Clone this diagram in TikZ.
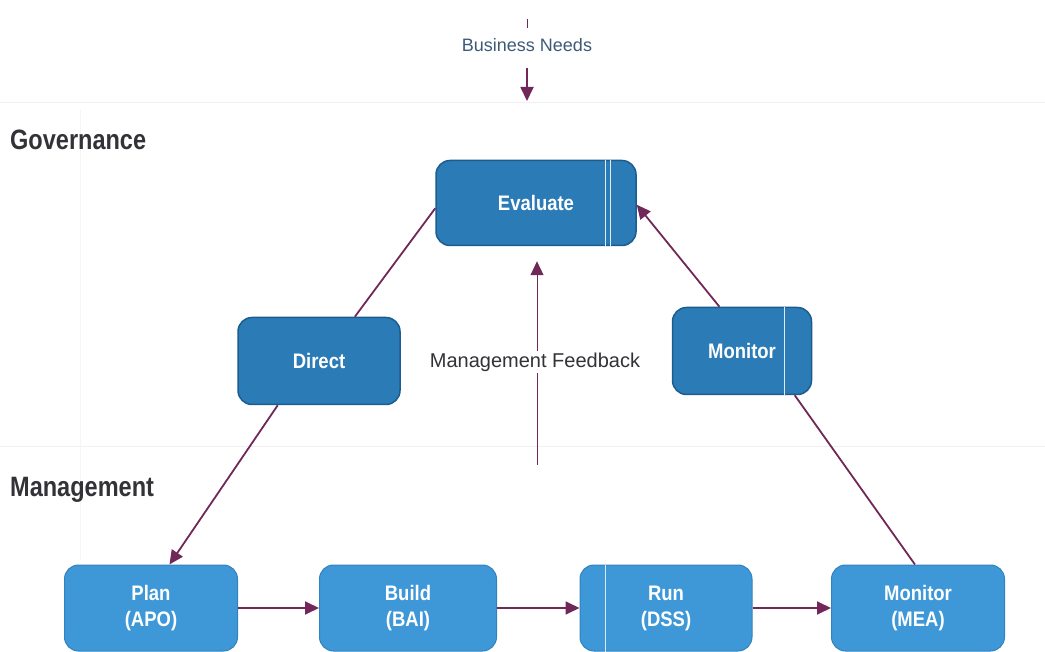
\documentclass[tikz,border=0pt]{standalone}
\usepackage{fontspec}
\setmainfont{Liberation Sans}
\newfontfamily\condfont[FakeStretch=0.84]{Liberation Sans}
\newfontfamily\boxfont[FakeStretch=0.88]{Liberation Sans}
\usetikzlibrary{arrows.meta}
\definecolor{govfill}{RGB}{43,123,183}
\definecolor{govdraw}{RGB}{28,92,142}
\definecolor{mgmtfill}{RGB}{62,152,216}
\definecolor{mgmtdraw}{RGB}{50,130,190}
\definecolor{linkcol}{RGB}{112,40,88}
\definecolor{labelcol}{RGB}{50,50,55}
\definecolor{needcol}{RGB}{60,90,120}
\begin{document}
\begin{tikzpicture}[x=1pt,y=-1pt,
  govbox/.style={draw=govdraw,line width=1.5pt,fill=govfill,rounded corners=14pt,
    text=white,font=\boxfont\bfseries\fontsize{21}{25}\selectfont,align=center},
  mgmtbox/.style={draw=mgmtdraw,line width=1pt,fill=mgmtfill,rounded corners=14pt,
    text=white,font=\boxfont\bfseries\fontsize{21}{26}\selectfont,align=center,
    minimum width=173pt,minimum height=86pt},
  layer/.style={font=\condfont\bfseries\fontsize{28}{32}\selectfont,text=labelcol,anchor=west,inner sep=0pt},
  link/.style={draw=linkcol,line width=1.8pt},
  linkarrow/.style={link,-{Triangle[length=14pt,width=13pt]}},
  band/.style={draw=gray!12,line width=1pt},
  scanline/.style={draw=white!85!govfill,line width=1pt}
]
\useasboundingbox (0,0) rectangle (1045,652);
% faint separators
\coordinate (bandAl) at (0,103); \coordinate (bandAr) at (1045,103);
\coordinate (bandBl) at (0,447); \coordinate (bandBr) at (1045,447);
\coordinate (bandVt) at (80,110); \coordinate (bandVb) at (80,560);
\draw[band] (bandAl) -- (bandAr);
\draw[band] (bandBl) -- (bandBr);
\draw[band,draw=gray!8] (bandVt) -- (bandVb);

% layer labels
\node[layer] (gov) at (10,140) {Governance};
\node[layer] (mgmt) at (10,490) {Management};

% business needs
\node[font=\fontsize{18}{20}\selectfont,text=needcol,inner sep=1pt] (needs) at (527,45) {Business Needs};
\coordinate (needstop) at (527,19);
\coordinate (needstopend) at (527,28);
\coordinate (needsstart) at (527,68);
\coordinate (needsend) at (527,101);
\draw[link,line width=1pt] (needstop) -- (needstopend);
\draw[linkarrow] (needsstart) -- (needsend);

% governance boxes
\node[govbox,minimum width=200pt,minimum height=85pt] (eval) at (536,203) {Evaluate};
\node[govbox,minimum width=162pt,minimum height=87pt] (direct) at (319,361) {Direct};
\node[govbox,minimum width=139pt,minimum height=87pt] (monitor) at (742,351) {Monitor};

% scan artefact lines
\draw[scanline] ([xshift=69pt]eval.north) -- ([xshift=69pt]eval.south);
\draw[scanline] ([xshift=74pt]eval.north) -- ([xshift=74pt]eval.south);
\draw[scanline] ([xshift=42pt]monitor.north) -- ([xshift=42pt]monitor.south);

% management boxes
\node[mgmtbox] (plan) at (151,608) {Plan\\(APO)};
\node[mgmtbox,minimum width=177pt] (build) at (408,608) {Build\\(BAI)};
\node[mgmtbox,minimum width=172pt] (run) at (666,608) {Run\\(DSS)};
\node[mgmtbox] (mea) at (918,608) {Monitor\\(MEA)};
\draw[scanline,draw=white!80!mgmtfill] ([xshift=-61pt]run.north) -- ([xshift=-61pt]run.south);

% management feedback
\coordinate (fbstart) at (537,465);
\draw[linkarrow,line width=1pt,shorten >=15pt] (fbstart) -- (eval.south -| fbstart);
\node[font=\fontsize{20}{24}\selectfont,text=labelcol,fill=white,inner sep=2pt] (fb) at (535,362) {Management Feedback};

% governance links
\draw[link] (direct.51) -- (eval.183);
\draw[linkarrow] (monitor.117) -- (eval.-1);
\draw[link] (mea.94) -- (monitor.-40);
\draw[linkarrow] (direct.227) -- (plan.67);

% management flow
\draw[linkarrow] (plan) -- (build);
\draw[linkarrow] (build) -- (run);
\draw[linkarrow] (run) -- (mea);
\end{tikzpicture}
\end{document}
